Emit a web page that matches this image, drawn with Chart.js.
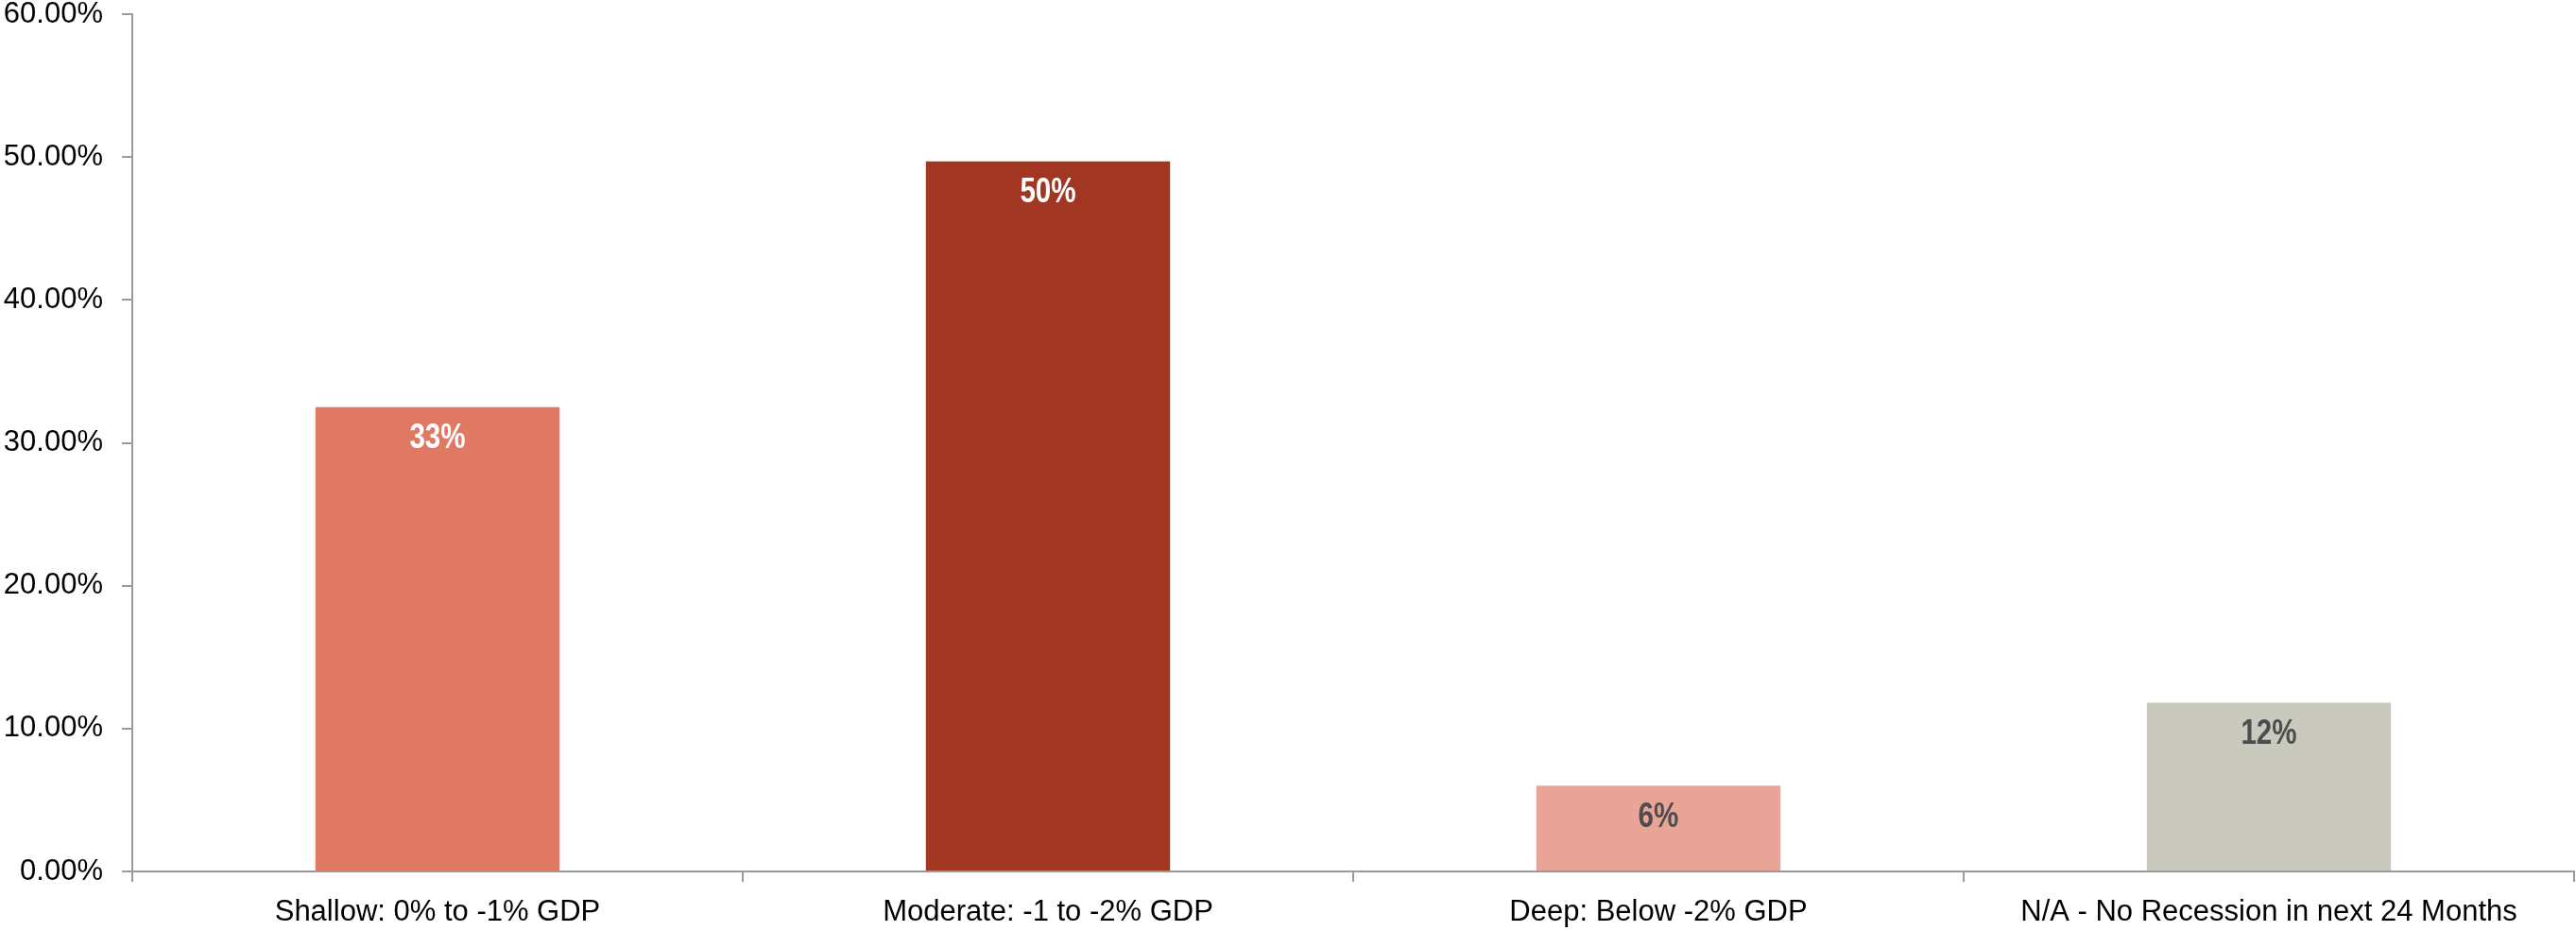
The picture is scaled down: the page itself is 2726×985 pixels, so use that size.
<!DOCTYPE html>
<html>
<head>
<meta charset="utf-8">
<script src="https://cdn.jsdelivr.net/npm/chart.js@4.4.1/dist/chart.umd.min.js"></script>
<style>
html,body{margin:0;padding:0;background:#fff;}
#wrap{width:2726px;height:985px;position:relative;}
</style>
</head>
<body>
<div id="wrap"><canvas id="c" width="2726" height="985"></canvas></div>
<script>
const categories = ["Shallow: 0% to -1% GDP", "Moderate: -1 to -2% GDP", "Deep: Below -2% GDP", "N/A - No Recession in next 24 Months"];
const values = [32.5, 49.7, 6.0, 11.8];
const barColors = ["#E07963", "#A13622", "#E9A498", "#C9C9BD"];
const labelColors = ["#FFFFFF", "#FFFFFF", "#4D4D4D", "#4D4D4D"];
const yTicks = [0, 10, 20, 30, 40, 50, 60];

const axisGray = "#9A9A9A";
const FONT = "'Liberation Sans', Arial, sans-serif";

const valueLabels = {
  id: 'valueLabels',
  afterDatasetsDraw(chart) {
    const ctx = chart.ctx;
    const meta = chart.getDatasetMeta(0);
    meta.data.forEach((bar, i) => {
      ctx.save();
      ctx.font = "bold 37px " + FONT;
      ctx.textAlign = 'center';
      ctx.textBaseline = 'middle';
      ctx.fillStyle = labelColors[i];
      ctx.translate(bar.x, bar.y + 33);
      ctx.scale(0.8, 1);
      ctx.fillText(Math.round(values[i]) + '%', 0, 0);
      ctx.restore();
    });
  }
};

new Chart(document.getElementById('c'), {
  type: 'bar',
  data: {
    labels: categories,
    datasets: [{
      data: values,
      backgroundColor: barColors,
      borderWidth: 0,
      barPercentage: 0.4,
      categoryPercentage: 1.0
    }]
  },
  options: {
    responsive: false,
    animation: false,
    devicePixelRatio: 1,
    layout: { padding: { top: 15, right: 2, left: 0, bottom: 0 } },
    plugins: { legend: { display: false }, tooltip: { enabled: false } },
    scales: {
      x: {
        offset: true,
        grid: { display: true, offset: true, drawOnChartArea: false, drawTicks: true, tickLength: 11, color: axisGray, lineWidth: 2 },
        border: { display: true, color: axisGray, width: 2 },
        ticks: { color: '#000', font: { family: FONT, size: 31 }, padding: 14, maxRotation: 0, autoSkip: false },
        afterFit(scale) { scale.height = 63; scale.paddingLeft = 0; scale.paddingRight = 0; }
      },
      y: {
        min: 0, max: 60,
        afterBuildTicks(scale) { scale.ticks = yTicks.map(v => ({ value: v })); },
        grid: { display: true, drawOnChartArea: false, drawTicks: true, tickLength: 11, color: axisGray, lineWidth: 2 },
        border: { display: true, color: axisGray, width: 2 },
        ticks: { color: '#000', font: { family: FONT, size: 31 }, padding: 20, callback: v => v.toFixed(2) + '%' },
        afterFit(scale) { scale.width = 140; scale.paddingTop = 0; scale.paddingBottom = 0; }
      }
    }
  },
  plugins: [valueLabels]
});
</script>
</body>
</html>
